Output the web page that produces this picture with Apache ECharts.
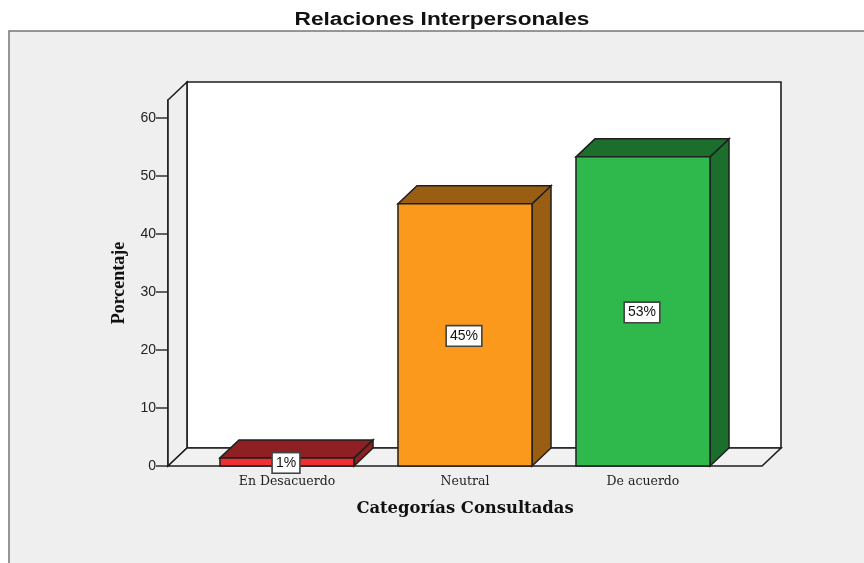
<!DOCTYPE html>
<html><head><meta charset="utf-8">
<style>html,body{margin:0;padding:0;background:#fff}#c{width:864px;height:563px}</style>
<script src="https://cdn.jsdelivr.net/npm/echarts@6/dist/echarts.min.js"></script>
</head><body><div id="c"></div>
<script>
const categories = ['En Desacuerdo', 'Neutral', 'De acuerdo'];
const values = [1.4, 45.2, 53.3];
const valueLabels = ['1%', '45%', '53%'];
const frontColors = ['#ee2f33', '#fb991c', '#2fb84c'];
const darkColors = ['#8e1f22', '#9a5e13', '#1c6e2d'];
const yTicks = [0, 10, 20, 30, 40, 50, 60];
const yMax = 63.1;
const titleText = 'Relaciones Interpersonales';

const DX = 19, DY = 18, OUT = 30, LINE = '#1f1f1f';
const chart = echarts.init(document.getElementById('c'), null, {renderer: 'canvas'});

function poly(points, fill, lw) {
  return {type: 'polygon', shape: {points}, style: {fill, stroke: LINE, lineWidth: lw || 1.5, lineJoin: 'miter'}};
}
function renderWalls(params, api) {
  const band = api.size([1, 0])[0];
  const l = api.coord([0, 0])[0] - band / 2 - OUT;
  const r = api.coord([2, 0])[0] + band / 2 + OUT;
  const b = api.coord([0, 0])[1];
  const t = api.coord([0, yMax])[1];
  return {type: 'group', children: [
    poly([[l + DX, t - DY], [r + DX, t - DY], [r + DX, b - DY], [l + DX, b - DY]], '#ffffff', 1.6),
    poly([[l, t], [l + DX, t - DY], [l + DX, b - DY], [l, b]], '#efefef', 1.6),
    poly([[l, b], [l + DX, b - DY], [r + DX, b - DY], [r, b]], '#f1f1f1', 1.6)
  ]};
}
function renderBar(params, api) {
  const i = api.value(0), v = api.value(1);
  const band = api.size([1, 0])[0];
  const w = band * 0.753;
  const c = api.coord([i, v]), z = api.coord([i, 0]);
  const l = c[0] - w / 2, r = c[0] + w / 2, t = c[1], b = z[1];
  return {type: 'group', children: [
    poly([[r, t], [r + DX, t - DY], [r + DX, b - DY], [r, b]], darkColors[i]),
    poly([[l, t], [l + DX, t - DY], [r + DX, t - DY], [r, t]], darkColors[i]),
    poly([[l, t], [r, t], [r, b], [l, b]], frontColors[i]),
    {type: 'text', z2: 10, style: {
      text: valueLabels[i], x: c[0] - 1, y: (t + b) / 2 + 1, align: 'center', verticalAlign: 'middle',
      font: '14px "Liberation Sans"', fill: '#111', backgroundColor: '#fff',
      borderColor: '#444', borderWidth: 1.6, padding: [3, 3, 2, 3]
    }}
  ]};
}

chart.setOption({
  animation: false,
  backgroundColor: '#ffffff',
  graphic: [
    {type: 'rect', z: -10, shape: {x: 9, y: 31, width: 900, height: 600},
      style: {fill: '#efefef', stroke: '#777', lineWidth: 1.5}},
    {type: 'text', z: 5, x: 442, y: 20, scaleX: 1.26, style: {
      text: titleText, align: 'center', verticalAlign: 'middle',
      font: 'bold 18px "Liberation Sans"', fill: '#111'}}
  ],
  grid: {left: 198, top: 100, width: 534, height: 366},
  xAxis: {
    type: 'category', data: categories,
    axisLine: {show: false},
    axisTick: {alignWithLabel: true, length: 7, lineStyle: {color: '#333', width: 1.5}},
    axisLabel: {fontFamily: 'DejaVu Serif', fontSize: 12.5, color: '#222', margin: 9},
    name: 'Categorías Consultadas', nameLocation: 'middle', nameGap: 35,
    nameTextStyle: {fontFamily: 'DejaVu Serif', fontWeight: 'bold', fontSize: 16.4, color: '#111'}
  },
  yAxis: {
    type: 'value', min: 0, max: yMax, offset: OUT,
    splitLine: {show: false},
    axisLine: {show: true, lineStyle: {color: LINE, width: 1.6}},
    axisTick: {show: true, length: 12, customValues: yTicks, lineStyle: {color: '#333', width: 1.5}},
    axisLabel: {customValues: yTicks, fontFamily: 'Liberation Sans', fontSize: 14, color: '#222', margin: 12},
    name: 'Porcentaje', nameLocation: 'middle', nameGap: 40,
    nameTextStyle: {fontFamily: 'Liberation Serif', fontWeight: 'bold', fontSize: 18, color: '#111'}
  },
  series: [
    {type: 'custom', z: 1, renderItem: renderWalls, data: [[0, 0]], silent: true},
    {type: 'custom', z: 3, renderItem: renderBar, clip: false,
      encode: {x: 0, y: 1},
      data: values.map((v, i) => [i, v])}
  ]
});
</script></body></html>
